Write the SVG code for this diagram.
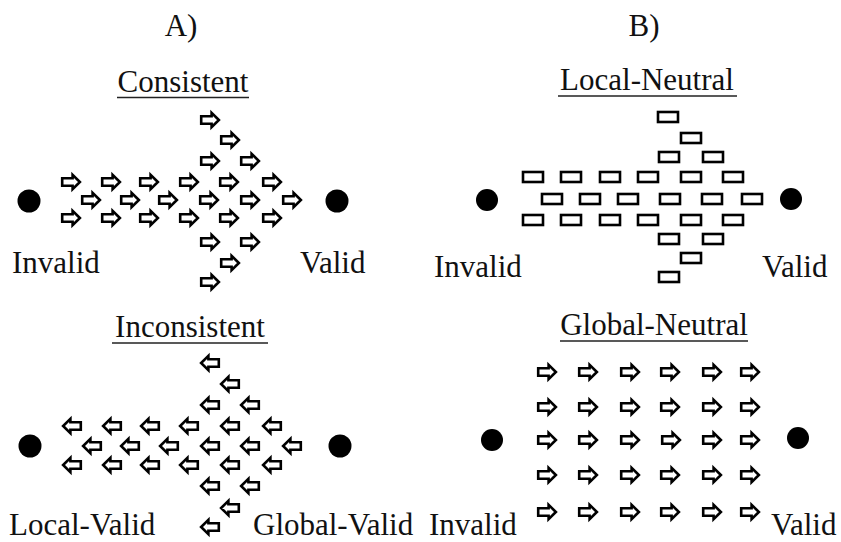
<svg xmlns="http://www.w3.org/2000/svg" xmlns:xlink="http://www.w3.org/1999/xlink" width="841" height="542" viewBox="0 0 841 542">
  <style>
    text { font-family: "Liberation Serif", "Times New Roman", serif; font-size: 31px; fill: #111; }
    .mid { text-anchor: middle; }
    .ul { stroke: #222; stroke-width: 1.6; }
    .dot { fill: #000; }
    .shape { fill: #fff; stroke: #000; stroke-width: 2.6; stroke-linejoin: miter; }
  </style>
  <defs>
    <!-- block arrow pointing right, centred on the origin -->
    <path id="ar" class="shape" d="M-8.8,-3.8 H1.6 V-7.2 L8.9,0 L1.6,7.2 V3.8 H-8.8 Z"/>
    <!-- same arrow pointing left -->
    <path id="al" class="shape" d="M8.8,-3.8 H-1.6 V-7.2 L-8.9,0 L-1.6,7.2 V3.8 H8.8 Z"/>
    <!-- neutral bar -->
    <rect id="bar" class="shape" x="-10" y="-5" width="20" height="10"/>
  </defs>

  <rect width="841" height="542" fill="#fff"/>

  <!-- panel A, top: consistent -->
  <g id="consistent">
    <text class="mid" x="181" y="36">A)</text>
    <text class="mid" x="183" y="92">Consistent</text>
    <line class="ul" x1="117" y1="97.5" x2="249" y2="97.5"/>
    <circle class="dot" cx="29" cy="201" r="11.5"/>
    <circle class="dot" cx="337" cy="201" r="11.5"/>
    <text x="12" y="273">Invalid</text>
    <text x="300" y="273">Valid</text>
    <g id="consistent-arrows">
      <use xlink:href="#ar" x="210" y="120"/>
      <use xlink:href="#ar" x="230" y="140"/>
      <use xlink:href="#ar" x="210" y="161"/>
      <use xlink:href="#ar" x="250" y="161"/>
      <use xlink:href="#ar" x="71" y="182"/>
      <use xlink:href="#ar" x="111" y="182"/>
      <use xlink:href="#ar" x="149" y="182"/>
      <use xlink:href="#ar" x="189" y="182"/>
      <use xlink:href="#ar" x="229" y="182"/>
      <use xlink:href="#ar" x="272" y="182"/>
      <use xlink:href="#ar" x="91" y="200"/>
      <use xlink:href="#ar" x="130" y="200"/>
      <use xlink:href="#ar" x="168" y="200"/>
      <use xlink:href="#ar" x="209" y="200"/>
      <use xlink:href="#ar" x="250" y="200"/>
      <use xlink:href="#ar" x="292" y="200"/>
      <use xlink:href="#ar" x="71" y="218"/>
      <use xlink:href="#ar" x="111" y="218"/>
      <use xlink:href="#ar" x="149" y="218"/>
      <use xlink:href="#ar" x="189" y="218"/>
      <use xlink:href="#ar" x="229" y="218"/>
      <use xlink:href="#ar" x="272" y="218"/>
      <use xlink:href="#ar" x="210" y="242"/>
      <use xlink:href="#ar" x="250" y="242"/>
      <use xlink:href="#ar" x="230" y="263"/>
      <use xlink:href="#ar" x="210" y="282"/>
    </g>
  </g>

  <!-- panel A, bottom: inconsistent -->
  <g id="inconsistent">
    <text class="mid" x="190" y="337">Inconsistent</text>
    <line class="ul" x1="112" y1="343" x2="268" y2="343"/>
    <circle class="dot" cx="30" cy="446" r="11.5"/>
    <circle class="dot" cx="340" cy="446" r="11.5"/>
    <text x="9" y="535">Local-Valid</text>
    <text x="253" y="535">Global-Valid</text>
    <g id="inconsistent-arrows">
      <use xlink:href="#al" x="210" y="363"/>
      <use xlink:href="#al" x="230" y="384"/>
      <use xlink:href="#al" x="210" y="405"/>
      <use xlink:href="#al" x="250" y="405"/>
      <use xlink:href="#al" x="72" y="426"/>
      <use xlink:href="#al" x="112" y="426"/>
      <use xlink:href="#al" x="150" y="426"/>
      <use xlink:href="#al" x="189" y="426"/>
      <use xlink:href="#al" x="230" y="426"/>
      <use xlink:href="#al" x="272" y="426"/>
      <use xlink:href="#al" x="92" y="446"/>
      <use xlink:href="#al" x="130" y="446"/>
      <use xlink:href="#al" x="169" y="446"/>
      <use xlink:href="#al" x="210" y="446"/>
      <use xlink:href="#al" x="250" y="446"/>
      <use xlink:href="#al" x="292" y="446"/>
      <use xlink:href="#al" x="72" y="465"/>
      <use xlink:href="#al" x="112" y="465"/>
      <use xlink:href="#al" x="150" y="465"/>
      <use xlink:href="#al" x="189" y="465"/>
      <use xlink:href="#al" x="230" y="465"/>
      <use xlink:href="#al" x="272" y="465"/>
      <use xlink:href="#al" x="210" y="486"/>
      <use xlink:href="#al" x="250" y="486"/>
      <use xlink:href="#al" x="230" y="508"/>
      <use xlink:href="#al" x="210" y="527"/>
    </g>
  </g>

  <!-- panel B, top: local-neutral -->
  <g id="local-neutral">
    <text class="mid" x="644" y="36">B)</text>
    <text class="mid" x="647" y="90">Local-Neutral</text>
    <line class="ul" x1="558" y1="96" x2="737" y2="96"/>
    <circle class="dot" cx="487" cy="200" r="11"/>
    <circle class="dot" cx="791" cy="199" r="11"/>
    <text x="434" y="277">Invalid</text>
    <text x="762" y="277">Valid</text>
    <g id="local-neutral-bars">
      <use xlink:href="#bar" x="668" y="117"/>
      <use xlink:href="#bar" x="691" y="138"/>
      <use xlink:href="#bar" x="669" y="157"/>
      <use xlink:href="#bar" x="713" y="157"/>
      <use xlink:href="#bar" x="533" y="177"/>
      <use xlink:href="#bar" x="571" y="177"/>
      <use xlink:href="#bar" x="610" y="177"/>
      <use xlink:href="#bar" x="648" y="177"/>
      <use xlink:href="#bar" x="691" y="177"/>
      <use xlink:href="#bar" x="733" y="177"/>
      <use xlink:href="#bar" x="552" y="199"/>
      <use xlink:href="#bar" x="590" y="199"/>
      <use xlink:href="#bar" x="628" y="199"/>
      <use xlink:href="#bar" x="670" y="199"/>
      <use xlink:href="#bar" x="712" y="199"/>
      <use xlink:href="#bar" x="752" y="199"/>
      <use xlink:href="#bar" x="533" y="220"/>
      <use xlink:href="#bar" x="571" y="220"/>
      <use xlink:href="#bar" x="610" y="220"/>
      <use xlink:href="#bar" x="648" y="220"/>
      <use xlink:href="#bar" x="691" y="220"/>
      <use xlink:href="#bar" x="733" y="220"/>
      <use xlink:href="#bar" x="669" y="239"/>
      <use xlink:href="#bar" x="713" y="239"/>
      <use xlink:href="#bar" x="691" y="258"/>
      <use xlink:href="#bar" x="669" y="277"/>
    </g>
  </g>

  <!-- panel B, bottom: global-neutral -->
  <g id="global-neutral">
    <text class="mid" x="654" y="335">Global-Neutral</text>
    <line class="ul" x1="560" y1="341" x2="748" y2="341"/>
    <circle class="dot" cx="492" cy="440" r="11"/>
    <circle class="dot" cx="798" cy="438" r="11"/>
    <text x="429" y="535">Invalid</text>
    <text x="771" y="535">Valid</text>
    <g id="global-neutral-arrows">
      <use xlink:href="#ar" x="547" y="372"/>
      <use xlink:href="#ar" x="588" y="372"/>
      <use xlink:href="#ar" x="630" y="372"/>
      <use xlink:href="#ar" x="670" y="372"/>
      <use xlink:href="#ar" x="712" y="372"/>
      <use xlink:href="#ar" x="750" y="372"/>
      <use xlink:href="#ar" x="547" y="407"/>
      <use xlink:href="#ar" x="588" y="407"/>
      <use xlink:href="#ar" x="630" y="407"/>
      <use xlink:href="#ar" x="670" y="407"/>
      <use xlink:href="#ar" x="712" y="407"/>
      <use xlink:href="#ar" x="750" y="407"/>
      <use xlink:href="#ar" x="547" y="440"/>
      <use xlink:href="#ar" x="588" y="440"/>
      <use xlink:href="#ar" x="630" y="440"/>
      <use xlink:href="#ar" x="671" y="440"/>
      <use xlink:href="#ar" x="712" y="440"/>
      <use xlink:href="#ar" x="750" y="440"/>
      <use xlink:href="#ar" x="547" y="475"/>
      <use xlink:href="#ar" x="588" y="475"/>
      <use xlink:href="#ar" x="630" y="475"/>
      <use xlink:href="#ar" x="670" y="475"/>
      <use xlink:href="#ar" x="712" y="475"/>
      <use xlink:href="#ar" x="750" y="475"/>
      <use xlink:href="#ar" x="547" y="512"/>
      <use xlink:href="#ar" x="588" y="512"/>
      <use xlink:href="#ar" x="630" y="512"/>
      <use xlink:href="#ar" x="670" y="512"/>
      <use xlink:href="#ar" x="712" y="512"/>
      <use xlink:href="#ar" x="750" y="512"/>
    </g>
  </g>
</svg>
